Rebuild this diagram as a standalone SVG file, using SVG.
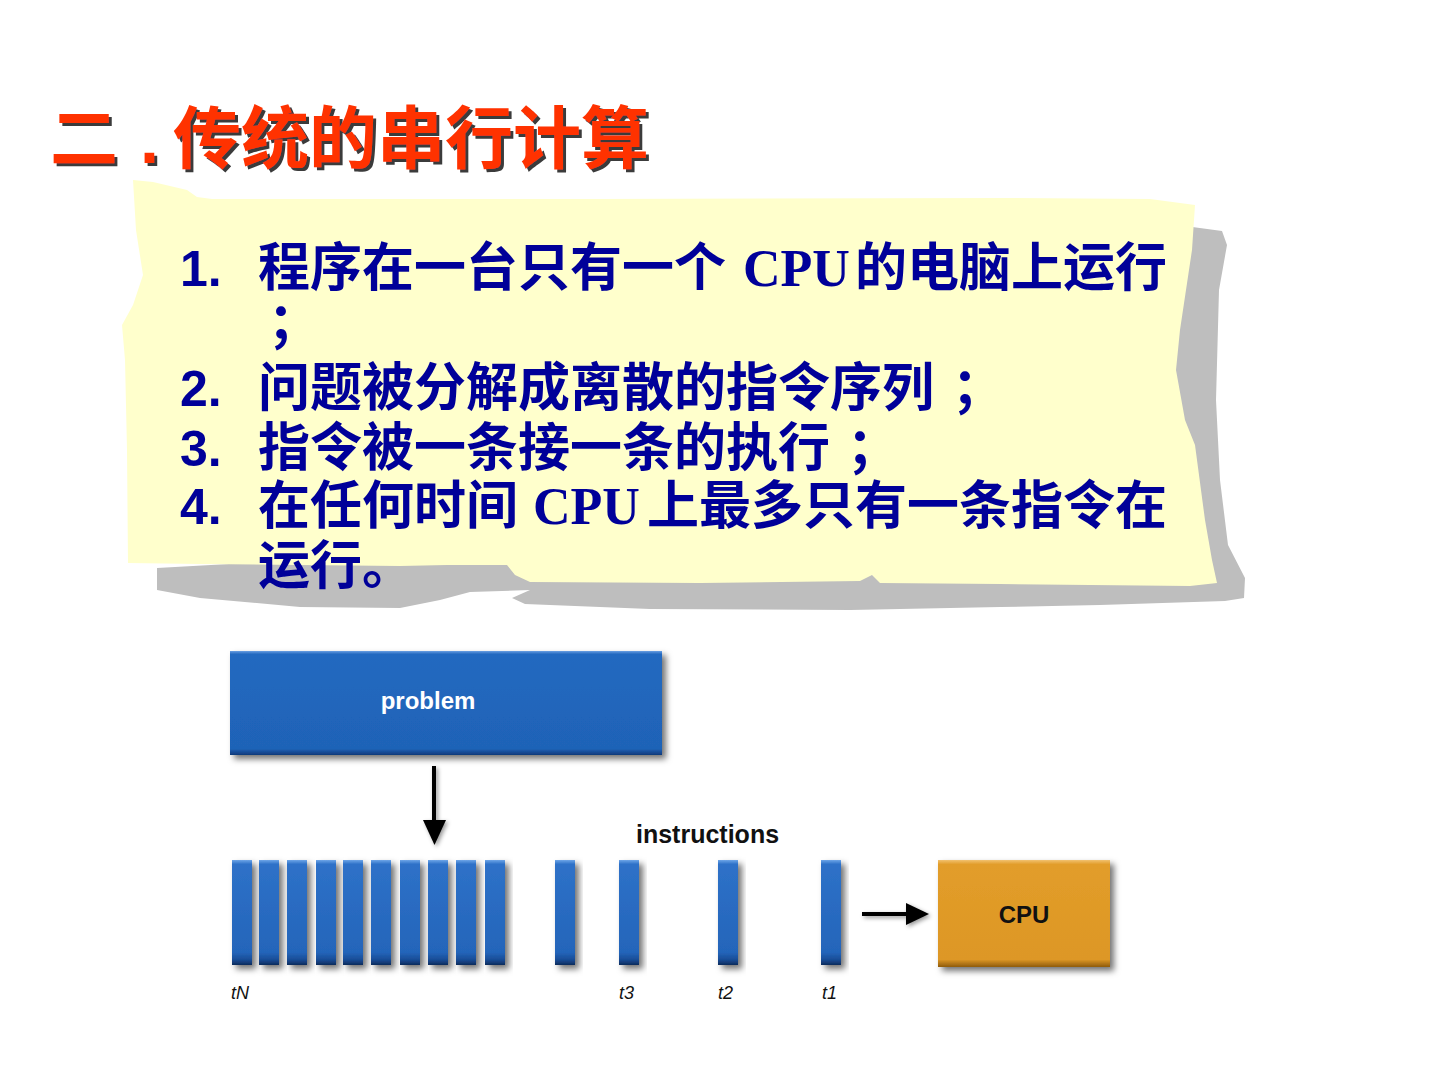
<svg xmlns="http://www.w3.org/2000/svg" width="1440" height="1080" viewBox="0 0 1440 1080">
<defs>
<style>
.title{font-family:"Noto Sans CJK SC","Liberation Sans",sans-serif;font-weight:bold;font-size:68px;fill:#FF3300}
.body{font-family:"Noto Sans CJK SC","Liberation Sans",sans-serif;font-weight:bold;font-size:52px;fill:#000099}
.num{font-family:"Liberation Sans",Arial,sans-serif;font-weight:bold;font-size:50px;fill:#000099}
.lat{font-family:"Liberation Serif","Times New Roman",serif;font-weight:bold;font-size:52px;fill:#000099}
.lbl{font-family:"Liberation Sans",Arial,sans-serif;font-weight:bold;font-size:24px}
.tl{font-family:"Liberation Sans",Arial,sans-serif;font-style:italic;font-size:18px;fill:#111}
.bar{fill:url(#barG);filter:url(#sh)}
</style>
<linearGradient id="barG" x1="0" y1="0" x2="0" y2="1">
<stop offset="0" stop-color="#6EA6E8"/>
<stop offset="0.04" stop-color="#2E71C8"/>
<stop offset="0.88" stop-color="#2465BA"/>
<stop offset="0.95" stop-color="#184C96"/>
<stop offset="1" stop-color="#0D2C5C"/>
</linearGradient>
<linearGradient id="probG" x1="0" y1="0" x2="0" y2="1">
<stop offset="0" stop-color="#6A9FE2"/>
<stop offset="0.03" stop-color="#2269C0"/>
<stop offset="0.94" stop-color="#1F63B7"/>
<stop offset="1" stop-color="#10397A"/>
</linearGradient>
<linearGradient id="cpuG" x1="0" y1="0" x2="0" y2="1">
<stop offset="0" stop-color="#F2C270"/>
<stop offset="0.04" stop-color="#E29D2A"/>
<stop offset="0.93" stop-color="#DD9725"/>
<stop offset="1" stop-color="#8E5A0C"/>
</linearGradient>
<filter id="sh" x="-30%" y="-20%" width="170%" height="150%">
<feDropShadow dx="4" dy="4" stdDeviation="3" flood-color="#000" flood-opacity="0.55"/>
</filter>
<filter id="ash" x="-50%" y="-50%" width="200%" height="200%">
<feDropShadow dx="2" dy="2" stdDeviation="2" flood-color="#000" flood-opacity="0.4"/>
</filter>
<filter id="tsh" x="-5%" y="-10%" width="110%" height="130%">
<feDropShadow dx="3" dy="3" stdDeviation="0.6" flood-color="#3a3a3a" flood-opacity="1"/>
</filter>
</defs>
<rect width="1440" height="1080" fill="#fff"/>

<g id="title" filter="url(#tsh)">
<text class="title" x="50" y="163">二</text>
<text class="title" x="140" y="163" style="font-family:'Liberation Sans',sans-serif">.</text>
<text class="title" x="173" y="163">传统的串行计算</text>
</g>

<g id="note">
<path fill="#BEBEBE" d="M1185,226 L1222,231 L1227,245 L1219,290 L1216,400 L1220,480 L1228,545 L1245,578 L1244,598 L1225,601 L1100,605 L1000,607 L850,610 L650,609 L525,604 L512,598 L530,590 L470,592 L440,600 L400,608 L300,607 L200,598 L157,590 L157,568 L300,560 L1150,300 Z"/>
<path fill="#FFFFCC" d="M133,180 L153,182 L187,190 L197,197 L212,199 L600,199 L1000,198 L1150,199 L1195,205 L1192,250 L1180,330 L1176,370 L1185,420 L1195,445 L1205,520 L1212,560 L1217,583 L1190,586 L1000,584 L880,583 L872,575 L860,581 L700,583 L530,582 L515,575 L507,565 L447,565 L400,566 L300,565 L200,564 L128,563 L127,450 L125,360 L122,325 L133,305 L143,275 L136,230 Z"/>
<text class="num" x="180" y="286">1.</text>
<text class="body" x="258" y="286">程序在一台只有一个</text>
<text class="lat" x="743" y="286">CPU</text>
<text class="body" x="855" y="286">的电脑上运行</text>
<text class="body" x="268" y="341">；</text>
<text class="num" x="180" y="406">2.</text>
<text class="body" x="258" y="406">问题被分解成离散的指令序列</text>
<text class="body" x="952" y="406">；</text>
<text class="num" x="180" y="466">3.</text>
<text class="body" x="258" y="466">指令被一条接一条的执行</text>
<text class="body" x="847" y="466">；</text>
<text class="num" x="180" y="524">4.</text>
<text class="body" x="258" y="524">在任何时间</text>
<text class="lat" x="533" y="524">CPU</text>
<text class="body" x="647" y="524">上最多只有一条指令在</text>
<text class="body" x="258" y="584">运行。</text>
</g>

<g id="problem">
<rect x="230" y="651" width="432" height="104" fill="url(#probG)" filter="url(#sh)"/>
<text class="lbl" x="428" y="709" text-anchor="middle" fill="#fff">problem</text>
</g>

<g id="instructions">
<text class="lbl" x="636" y="843" fill="#111" style="font-size:25px">instructions</text>
<rect class="bar" x="232" y="860" width="20" height="105"/>
<rect class="bar" x="259" y="860" width="20" height="105"/>
<rect class="bar" x="287" y="860" width="20" height="105"/>
<rect class="bar" x="316" y="860" width="20" height="105"/>
<rect class="bar" x="343" y="860" width="20" height="105"/>
<rect class="bar" x="371" y="860" width="20" height="105"/>
<rect class="bar" x="400" y="860" width="20" height="105"/>
<rect class="bar" x="428" y="860" width="20" height="105"/>
<rect class="bar" x="456" y="860" width="20" height="105"/>
<rect class="bar" x="485" y="860" width="20" height="105"/>
<rect class="bar" x="555" y="860" width="20" height="105"/>
<rect class="bar" x="619" y="860" width="20" height="105"/>
<rect class="bar" x="718" y="860" width="20" height="105"/>
<rect class="bar" x="821" y="860" width="20" height="105"/>
<text class="tl" x="231" y="999">tN</text>
<text class="tl" x="619" y="999">t3</text>
<text class="tl" x="718" y="999">t2</text>
<text class="tl" x="822" y="999">t1</text>
</g>

<g id="cpu">
<rect x="938" y="860" width="172" height="107" fill="url(#cpuG)" filter="url(#sh)"/>
<text class="lbl" x="1024" y="923" text-anchor="middle" fill="#111">CPU</text>
</g>

<g id="connectors" fill="#000" stroke="#000" filter="url(#ash)">
<line x1="434" y1="766" x2="434" y2="823" stroke-width="4"/>
<polygon points="423,820 446,820 434.5,845" stroke="none"/>
<line x1="862" y1="914" x2="910" y2="914" stroke-width="4"/>
<polygon points="906,903 906,925 929,914" stroke="none"/>
</g>
</svg>
